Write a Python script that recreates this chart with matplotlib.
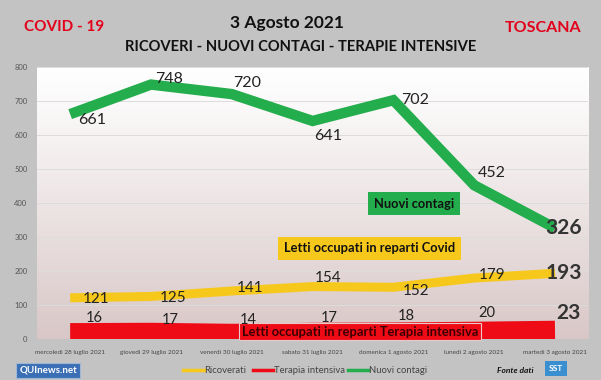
import numpy as np
import matplotlib
matplotlib.use("Agg")
import matplotlib.pyplot as plt

plt.rcParams['font.family'] = ['Lato', 'DejaVu Sans']

# dati
giorni = ['mercoledì 28 luglio 2021', 'giovedì 29 luglio 2021', 'venerdì 30 luglio 2021',
          'sabato 31 luglio 2021', 'domenica 1 agosto 2021', 'lunedì 2 agosto 2021',
          'martedì 3 agosto 2021']
ricoverati = [121, 125, 141, 154, 152, 179, 193]
terapia = [16, 17, 14, 17, 18, 20, 23]
contagi = [661, 748, 720, 641, 702, 452, 326]
y_ticks = [0, 100, 200, 300, 400, 500, 600, 700, 800]

# offset etichette (punti)
off_contagi = [(16, -4), (13, 4), (11, 8), (11, -11), (16, 0), (13, 9), (6, 0)]
off_ricov = [(19, -1), (16, -1), (13, 2), (11, 6), (16, -3), (13, 2), (6, 0)]
off_ter = [(17, 11), (14, 9.5), (12, 10.5), (12, 11), (9, 12), (9, 14), (10, 13)]

GREEN = '#23ad4c'
YELLOW = '#f7c81c'
RED = '#ee0b16'
BG = '#c3c3c3'

fig = plt.figure(figsize=(6.01, 3.80), dpi=100, facecolor=BG)
ax = fig.add_axes([0.0616, 0.108, 0.917, 0.716])
ax.set_facecolor('none')

x = np.arange(len(giorni))

# sfondo sfumato
grad = np.linspace(0, 1, 256).reshape(-1, 1)
top = np.array([1.0, 1.0, 1.0])
bot = np.array([0.85, 0.78, 0.78])
img = top + (bot - top) * grad[..., None] ** 1.1
ax.imshow(img, extent=[-0.41, 6.41, 0, 800], origin='upper', aspect='auto', zorder=0)
ax.set_xlim(-0.41, 6.41)
ax.set_ylim(0, 800)

for t in y_ticks[1:]:
    ax.axhline(t, color='#dcdcdc', lw=0.7, zorder=1)

ax.plot(x, terapia, color=RED, lw=15, solid_capstyle='butt', solid_joinstyle='miter', zorder=2)
ax.plot(x, ricoverati, color=YELLOW, lw=6.5, solid_capstyle='butt', zorder=3)
ax.plot(x, contagi, color=GREEN, lw=7.5, solid_capstyle='butt', solid_joinstyle='miter', zorder=3)

for i in range(len(x) - 1):
    ax.annotate(str(contagi[i]), (x[i], contagi[i]), xytext=off_contagi[i], textcoords='offset points',
                ha='center', va='center', fontsize=11.5, color='#222222', zorder=7)
    ax.annotate(str(ricoverati[i]), (x[i], ricoverati[i]), xytext=off_ricov[i], textcoords='offset points',
                ha='center', va='center', fontsize=11, color='#222222', zorder=7)
    ax.annotate(str(terapia[i]), (x[i], terapia[i]), xytext=off_ter[i], textcoords='offset points',
                ha='center', va='center', fontsize=10.5, color='#222222', zorder=7)

for serie, off in [(contagi, off_contagi[-1]), (ricoverati, off_ricov[-1]), (terapia, off_ter[-1])]:
    ax.annotate(str(serie[-1]), (x[-1], serie[-1]), xytext=off, textcoords='offset points',
                ha='center', va='center', fontsize=15, fontweight='bold', color='#333333', zorder=7)

# riquadri didascalie
ax.text(4.26, 398, 'Nuovi contagi', ha='center', va='center', fontsize=9.3, fontweight='bold',
        color='#111111', zorder=6,
        bbox=dict(boxstyle='square,pad=0.45', fc=GREEN, ec='none'))
ax.text(3.70, 266, 'Letti occupati in reparti Covid', ha='center', va='center', fontsize=9.3,
        fontweight='bold', color='#111111', zorder=6,
        bbox=dict(boxstyle='square,pad=0.45', fc=YELLOW, ec='none'))
ax.text(3.59, 21, 'Letti occupati in reparti Terapia intensiva', ha='center', va='center', fontsize=9.3,
        fontweight='bold', color='#3a0000', zorder=6,
        bbox=dict(boxstyle='square,pad=0.2', fc=RED, ec='#e8c8c8', lw=0.8))

ax.set_xticks(x)
ax.set_xticklabels(giorni, fontsize=4.6, color='#444444')
ax.set_yticks(y_ticks)
ax.set_yticklabels([str(t) for t in y_ticks], fontsize=5.5, color='#555555')
ax.tick_params(axis='x', length=0, pad=8)
ax.tick_params(axis='y', length=0, pad=7)
for s in ax.spines.values():
    s.set_visible(False)

# titoli
fig.text(0.106, 0.929, 'COVID - 19', ha='center', va='center', fontsize=11, fontweight='bold', color='#e2001a')
fig.text(0.904, 0.926, 'TOSCANA', ha='center', va='center', fontsize=11.5, fontweight='bold', color='#e2001a')
fig.text(0.478, 0.94, '3 Agosto 2021', ha='center', va='center', fontsize=12.5, fontweight='bold', color='#111111')
fig.text(0.50, 0.876, 'RICOVERI - NUOVI CONTAGI - TERAPIE INTENSIVE', ha='center', va='center',
         fontsize=10.6, fontweight='bold', color='#111111')

# legenda
leg_y = 0.026
for lx, col, lab in [(0.305, YELLOW, 'Ricoverati'), (0.421, RED, 'Terapia intensiva'),
                     (0.579, GREEN, 'Nuovi contagi')]:
    fig.lines.append(plt.Line2D([lx, lx + 0.034], [leg_y, leg_y], color=col, lw=2.5,
                                transform=fig.transFigure, figure=fig))
    fig.text(lx + 0.035, leg_y, lab, ha='left', va='center', fontsize=6.8, color='#444444')

# loghi
fig.text(0.08, 0.026, 'QUInews.net', ha='center', va='center', fontsize=7, fontweight='bold',
         color='white', bbox=dict(boxstyle='square,pad=0.3', fc='#3b6fb5', ec='#9fb7d6', lw=0.8))
fig.text(0.888, 0.026, 'Fonte dati', ha='right', va='center', fontsize=6, fontweight='bold',
         fontstyle='italic', color='#111111')
fig.text(0.925, 0.03, 'SST', ha='center', va='center', fontsize=6, fontweight='bold', color='white',
         bbox=dict(boxstyle='square,pad=0.5', fc='#3a8fd0', ec='none'))

fig.savefig('out.png', dpi=100, facecolor=BG)
